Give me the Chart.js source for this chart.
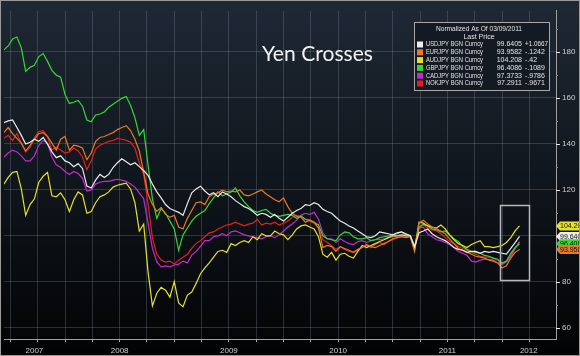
<!DOCTYPE html>
<html><head><meta charset="utf-8">
<script src="https://cdn.jsdelivr.net/npm/chart.js@4"></script>
<style>html,body{margin:0;padding:0;background:#000;}#wrap{width:580px;height:356px;position:relative}</style>
</head><body><div id="wrap"><canvas id="c" width="580" height="356"></canvas></div>
<script>
const dates = [2007.44,2007.48,2007.52,2007.56,2007.60,2007.64,2007.68,2007.72,2007.76,2007.80,
2007.84,2007.88,2007.92,2007.96,2008.00,2008.04,2008.08,2008.12,2008.16,2008.20,
2008.24,2008.28,2008.32,2008.36,2008.40,2008.44,2008.48,2008.52,2008.56,2008.60,
2008.64,2008.68,2008.72,2008.76,2008.80,2008.84,2008.88,2008.92,2008.96,2009.00,
2009.04,2009.08,2009.12,2009.16,2009.20,2009.24,2009.28,2009.32,2009.36,2009.40,
2009.44,2009.48,2009.52,2009.56,2009.60,2009.64,2009.68,2009.72,2009.76,2009.80,
2009.84,2009.88,2009.92,2009.96,2010.00,2010.04,2010.08,2010.12,2010.16,2010.20,
2010.24,2010.28,2010.32,2010.36,2010.40,2010.44,2010.48,2010.52,2010.56,2010.60,
2010.64,2010.68,2010.72,2010.76,2010.80,2010.84,2010.88,2010.92,2010.96,2011.00,
2011.04,2011.08,2011.12,2011.16,2011.20,2011.24,2011.28,2011.32,2011.36,2011.40,
2011.44,2011.48,2011.52,2011.56,2011.60,2011.64,2011.68,2011.72,2011.76,2011.80,
2011.84,2011.88,2011.92,2011.96,2012.00,2012.04,2012.08,2012.12,2012.16];

const usdjpy = [149.1,149.9,150.3,147.0,143.6,139.8,140.6,141.9,141.0,142.7,
139.8,136.4,133.9,134.7,132.5,131.7,130.0,131.3,129.2,121.5,
120.7,124.1,126.6,125.3,126.6,129.6,131.7,133.4,132.1,130.8,
131.7,130.0,128.3,126.2,122.4,119.0,116.4,113.5,111.8,110.9,
110.1,108.8,113.9,118.6,120.3,121.5,119.4,117.7,118.6,116.9,
119.0,118.1,116.9,115.2,113.9,112.6,111.8,110.5,108.8,109.7,
109.2,108.0,109.2,107.5,106.3,108.0,109.7,110.9,111.8,113.5,
113.1,114.3,113.5,111.4,110.5,109.7,108.0,106.3,105.4,104.2,
103.3,102.0,100.8,99.5,99.1,99.9,101.6,101.2,100.8,100.3,
101.2,101.6,100.8,99.9,95.2,101.2,102.0,102.9,100.8,99.5,
98.6,97.8,96.5,94.8,94.0,93.6,92.7,93.1,93.1,92.3,
93.1,92.7,93.1,92.7,92.3,91.9,94.4,96.9,99.64];

const eurjpy = [144.8,147.0,144.4,142.3,140.2,136.8,139.3,141.9,144.4,144.8,
143.1,140.2,137.2,141.9,143.1,137.2,139.3,138.9,138.1,133.0,
135.9,141.0,142.7,143.1,144.0,144.8,146.1,147.0,147.8,145.7,
141.9,136.8,127.5,118.1,113.5,110.5,112.2,109.2,108.0,108.8,
103.7,102.9,107.5,110.9,114.3,114.7,113.5,116.9,118.1,118.6,
119.8,119.0,119.4,119.0,119.8,117.7,117.3,118.1,119.0,119.8,
118.1,116.9,115.6,114.7,116.4,112.6,109.7,108.4,108.0,105.8,
106.7,105.8,103.3,94.8,95.7,95.2,93.1,95.2,94.4,93.6,
92.7,94.0,94.8,96.1,95.2,94.8,95.7,96.5,97.4,98.6,
99.1,99.5,99.1,99.5,93.1,105.4,106.7,105.0,103.7,102.9,
102.0,100.8,98.6,96.5,94.4,93.6,92.7,91.9,91.0,90.6,
90.2,89.3,88.9,88.1,85.9,86.8,90.2,92.7,93.96];

const audjpy = [122.4,125.3,127.5,127.9,120.3,108.8,113.5,116.0,123.2,125.8,
127.5,117.3,116.9,118.6,115.6,110.5,115.6,119.0,117.7,109.7,
110.5,114.3,116.9,117.7,119.0,121.1,121.9,122.4,122.8,120.3,
114.3,102.0,105.0,84.2,69.4,74.9,77.5,76.2,73.2,80.0,
70.7,69.0,74.1,75.4,79.2,83.4,85.9,88.1,90.6,93.1,
93.6,92.7,96.5,95.7,97.0,97.8,97.0,99.5,98.2,100.8,
99.9,99.9,102.0,100.8,100.3,98.2,100.3,102.9,104.2,104.6,
103.7,102.9,99.5,91.9,90.6,92.7,89.3,91.9,92.3,91.0,
90.2,93.1,95.7,94.8,95.7,96.5,97.4,98.2,99.1,99.9,
99.9,100.3,99.9,99.9,94.0,105.8,105.4,104.2,103.7,103.3,
104.6,102.9,100.3,98.2,96.5,95.7,94.8,96.1,97.0,97.8,
95.2,95.2,94.8,95.2,95.7,97.0,99.1,102.0,104.208];

const gbpjpy = [180.8,182.5,185.5,186.4,181.7,171.5,173.2,174.1,177.9,179.2,
175.8,171.9,169.8,168.9,161.4,157.5,158.0,158.8,156.3,150.3,
149.5,152.5,152.9,153.8,155.8,157.1,158.4,159.7,160.5,156.7,
151.2,143.6,146.1,130.8,116.0,107.5,111.8,109.7,106.3,102.9,
93.6,100.3,103.3,106.3,108.4,109.7,110.9,113.9,116.4,119.0,
117.3,118.1,119.0,120.7,117.3,114.7,112.6,110.9,110.1,110.9,
111.4,109.7,108.8,108.4,108.8,109.2,108.8,107.5,108.4,107.1,
106.7,105.8,104.6,99.9,98.6,98.2,97.8,100.3,101.6,101.2,
99.5,98.6,98.6,99.1,97.8,98.2,99.1,99.5,99.9,100.3,
100.8,101.6,100.3,99.9,95.2,103.7,105.0,104.2,102.9,102.5,
101.6,102.0,100.3,98.6,97.4,95.2,94.0,93.1,92.7,92.3,
91.4,91.0,90.2,89.7,88.0,88.9,92.3,94.8,96.4086];

const cadjpy = [134.2,135.9,137.2,136.4,134.7,132.5,132.5,134.7,139.3,141.4,
140.2,134.2,130.8,129.6,127.9,126.6,127.9,127.0,124.9,119.4,
119.8,122.4,123.2,123.6,123.6,124.1,124.5,124.1,123.6,122.4,
121.1,118.6,116.0,105.4,94.4,88.5,86.4,86.8,86.4,87.2,
87.6,88.9,88.1,91.5,93.1,95.3,97.8,97.8,99.5,99.9,
100.8,99.9,101.6,102.0,101.2,100.3,99.9,99.5,99.1,98.6,
99.5,99.9,99.1,100.3,102.0,103.7,105.0,106.7,108.8,109.7,
109.2,110.1,107.1,101.2,98.6,98.6,97.0,98.6,97.4,96.5,
96.1,97.4,97.8,97.0,97.8,98.2,98.2,98.6,99.1,99.5,
99.9,100.3,100.3,99.9,94.8,103.3,103.7,100.8,99.5,98.2,
97.8,97.0,96.1,94.8,93.1,92.3,91.4,88.9,88.5,89.3,
89.7,89.7,89.3,88.1,87.6,88.5,91.4,94.4,97.3733];

const nokjpy = [142.3,143.6,141.4,144.4,140.2,136.4,138.5,142.7,145.3,145.7,
143.1,137.2,138.5,137.2,135.9,136.4,138.1,136.8,134.2,128.7,
132.5,137.6,139.3,140.2,141.0,141.4,142.3,141.9,141.4,140.6,
138.1,131.7,126.6,113.9,99.1,91.9,89.3,88.5,88.9,87.6,
89.3,90.6,91.9,94.4,96.5,97.8,99.5,101.2,101.6,102.9,
103.7,104.6,105.0,105.8,105.0,104.2,105.0,105.4,107.1,104.6,
105.4,105.0,105.8,104.6,105.4,106.3,108.0,108.8,108.4,107.1,
106.3,105.4,103.3,98.2,97.0,95.7,94.0,95.2,94.0,93.1,
92.7,93.6,94.8,95.7,94.8,96.1,97.0,96.1,97.4,98.2,
99.1,99.5,99.9,99.9,94.4,102.9,104.6,103.3,102.5,102.0,
100.8,99.1,97.4,96.5,95.2,94.4,93.6,92.7,91.9,91.0,
90.6,90.6,90.2,89.3,87.2,88.9,90.6,94.4,97.2911];

const seriesNames = ['USDJPY BGN Curncy','EURJPY BGN Curncy','AUDJPY BGN Curncy','GBPJPY BGN Curncy','CADJPY BGN Curncy','NOKJPY BGN Curncy'];
const lastPrices = ['99.6405','93.9582','104.208','96.4086','97.3733','97.2911'];
const priceChanges = ['+1.0667','-.1242','-.42','-.1089','-.9786','-.9671'];
const legendTitle = 'Normalized As Of 03/09/2011';
const legendSubtitle = 'Last Price';
const chartTitle = 'Yen Crosses';

const yTicks = [60,70,80,90,100,110,120,130,140,150,160,170,180,190];
const quarterTicks = [2007.5,2007.75,2008,2008.25,2008.5,2008.75,2009,2009.25,2009.5,2009.75,2010,2010.25,2010.5,2010.75,2011,2011.25,2011.5,2011.75,2012,2012.25];
const yearLabels = ['2007','2008','2009','2010','2011','2012'];
const yearCenters = [2007.72,2008.5,2009.5,2010.5,2011.5,2012.245];
const xMin = 2007.4416, xMax = 2012.494, yMin = 55, yMax = 197.8;
const highlightBox = {x0: 2011.98, x1: 2012.245, y0: 80.4, y1: 113.1};

const colors = ['#ececec','#e8782a','#e6e02a','#36d836','#c22ccc','#e81e1e'];
const seriesData = [usdjpy, eurjpy, audjpy, gbpjpy, cadjpy, nokjpy];
const tagOrder = [2,0,3,1];

const bgPlugin = {
  id:'bg',
  beforeDraw(chart){
    const c = chart.ctx;
    const g = c.createLinearGradient(0,0,0,chart.height);
    g.addColorStop(0,'#1f2834');
    g.addColorStop(0.5,'#10161d');
    g.addColorStop(1,'#020304');
    c.save(); c.fillStyle = g; c.fillRect(0,0,chart.width,chart.height); c.restore();
  }
};

const overlayPlugin = {
  id:'overlay',
  afterDraw(chart){
    const c = chart.ctx, xs = chart.scales.x, ys = chart.scales.y, a = chart.chartArea;
    c.save();
    // y tick marks
    yTicks.forEach(v => {
      const y = Math.round(ys.getPixelForValue(v)) + 0.5;
      const major = v % 20 === 0;
      c.strokeStyle = major ? '#e8e8e8' : '#7c848c';
      c.lineWidth = 1;
      c.beginPath(); c.moveTo(a.right, y); c.lineTo(a.right + (major ? 4 : 2), y); c.stroke();
    });
    // title
    c.fillStyle = '#f2f2f2';
    c.font = '22px Lato';
    c.textAlign = 'left'; c.textBaseline = 'alphabetic';
    c.fillText(chartTitle, 262, 61, 111);
    // highlight box
    const bx0 = xs.getPixelForValue(highlightBox.x0), bx1 = xs.getPixelForValue(highlightBox.x1);
    const by0 = ys.getPixelForValue(highlightBox.y1), by1 = ys.getPixelForValue(highlightBox.y0);
    c.strokeStyle = '#b8b8b8'; c.lineWidth = 1.5;
    c.strokeRect(Math.round(bx0)+0.5, Math.round(by0)+0.5, Math.round(bx1-bx0), Math.round(by1-by0));
    // legend
    c.fillStyle = 'rgba(20,26,34,0.96)';
    c.fillRect(414,22,136,69);
    c.strokeStyle = '#a8a8a8'; c.lineWidth = 1;
    c.strokeRect(414.5,22.5,135,68);
    c.font = '7px "Liberation Sans"';
    c.fillStyle = '#e4e4e4';
    c.textBaseline = 'middle'; c.textAlign = 'center';
    c.fillText(legendTitle, 479, 29.5, 86);
    c.fillText(legendSubtitle, 479, 37);
    for (let i = 0; i < seriesNames.length; i++) {
      const y = 44.5 + i * 7.8;
      c.fillStyle = colors[i];
      c.fillRect(417, y - 3, 6, 6);
      c.fillStyle = '#e4e4e4';
      c.textAlign = 'left';
      c.fillText(seriesNames[i], 426, y, 57);
      c.textAlign = 'right';
      c.fillText(lastPrices[i], 522, y, 27);
      c.textAlign = 'left';
      c.fillText(priceChanges[i], 525, y, 23);
    }
    // last value tags
    tagOrder.forEach(k => {
      const arr = seriesData[k];
      const y = ys.getPixelForValue(arr[arr.length - 1]);
      c.save();
      c.beginPath();
      c.moveTo(a.right, y); c.lineTo(a.right + 4, y - 4.5); c.lineTo(580, y - 4.5);
      c.lineTo(580, y + 4.5); c.lineTo(a.right + 4, y + 4.5); c.closePath();
      c.fillStyle = colors[k]; c.fill();
      c.clip();
      c.fillStyle = '#111';
      c.font = '7px "Liberation Sans"';
      c.textAlign = 'left'; c.textBaseline = 'middle';
      c.fillText(lastPrices[k], a.right + 4, y + 0.5);
      c.restore();
    });
    // frame
    c.strokeStyle = '#9a9a9a'; c.lineWidth = 1;
    c.strokeRect(0.5,0.5,579,355);
    c.restore();
  }
};

const datasets = seriesData.map((arr, i) => ({
  label: seriesNames[i],
  data: arr.map((v, j) => ({x: dates[j], y: v})),
  borderColor: colors[i],
  borderWidth: 1.2,
  fill: false,
  pointRadius: 0,
  tension: 0
}));

new Chart(document.getElementById('c'), {
  type: 'line',
  data: { datasets },
  plugins: [bgPlugin, overlayPlugin],
  options: {
    responsive: false, animation: false, devicePixelRatio: 1,
    layout: { padding: { left: 4, top: 2, right: 0, bottom: 0 } },
    plugins: { legend: { display: false }, tooltip: { enabled: false } },
    scales: {
      x: {
        type: 'linear', position: 'bottom', min: xMin, max: xMax, weight: 0,
        afterBuildTicks: s => { s.ticks = quarterTicks.map(v => ({ value: v })); },
        afterFit: s => { s.height = 6; },
        ticks: { callback: () => '', autoSkip: false, padding: 0 },
        grid: { color: 'rgba(125,135,150,0.32)', lineWidth: 1, drawTicks: true, tickLength: 3, tickColor: '#b0b0b0' },
        border: { display: true, color: '#a0a0a0', width: 1 }
      },
      x2: {
        type: 'linear', position: 'bottom', min: xMin, max: xMax, weight: 1,
        afterBuildTicks: s => { s.ticks = yearCenters.map(v => ({ value: v })); },
        afterFit: s => { s.height = 11; },
        ticks: { callback: (v, i) => yearLabels[i], color: '#cfcfcf', font: { size: 8, family: 'Liberation Sans' }, padding: 1, maxRotation: 0, autoSkip: false },
        grid: { display: false, drawTicks: false },
        border: { display: false }
      },
      y: {
        type: 'linear', position: 'right', min: yMin, max: yMax,
        afterBuildTicks: s => { s.ticks = yTicks.map(v => ({ value: v })); },
        afterFit: s => { s.width = 24; },
        ticks: { callback: v => (v % 20 === 0 ? String(v) : ''), color: '#cfcfcf', font: { size: 8, family: 'Liberation Sans' }, padding: 6, autoSkip: false },
        grid: { color: c => (c.tick && c.tick.value % 20 === 0) ? 'rgba(125,135,150,0.32)' : 'rgba(0,0,0,0)', drawTicks: false },
        border: { display: true, color: '#a0a0a0' }
      }
    }
  }
});
</script></body></html>
